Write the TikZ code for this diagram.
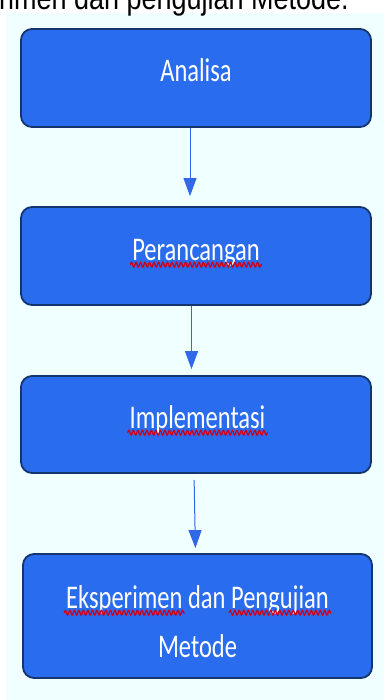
\documentclass[tikz,border=0pt]{standalone}
\usepackage{graphicx}
\usepackage{fontspec}
\newfontfamily\boxfont{Carlito}
\newfontfamily\capfont{Liberation Sans}
\usetikzlibrary{arrows.meta,decorations.pathmorphing}
\definecolor{boxblue}{RGB}{42,108,238}
\definecolor{boxedge}{RGB}{21,53,110}
\definecolor{paper}{RGB}{240,255,255}
\definecolor{flowblue}{RGB}{48,104,232}
\definecolor{spellred}{RGB}{208,0,24}
\newcommand{\vtall}[1]{\scalebox{1}[1.35]{#1}}
\newcommand{\spell}[1]{\tikz[baseline=(w.base)]{\node[inner sep=0pt,draw=none,fill=none] (w) {#1};
  \draw[overlay,spellred,line width=1.2pt,decorate,decoration={snake,amplitude=1.7pt,segment length=4.5pt}]
    ([shift={(-2pt,-3.5pt)}]w.base west) -- ([shift={(2pt,-3.5pt)}]w.base east);}}
\begin{document}
\begin{tikzpicture}[x=1pt,y=-1pt,
    stage/.style={draw=boxedge,line width=1.8pt,fill=boxblue,rounded corners=11pt,
      minimum width=350pt,minimum height=98pt,inner sep=0pt},
    lbl/.style={text=white,font=\boxfont\fontsize{24.5}{29}\selectfont,inner sep=0pt,anchor=base},
    flow/.style={flowblue,line width=1pt,-{Triangle[width=13pt,length=18pt]}}]
    \useasboundingbox (0,0) rectangle (384,700);
    \clip (0,0) rectangle (384,700);
    \fill[paper] (6,13) rectangle (384,700);
    \node[font=\capfont\fontsize{27}{30}\selectfont,anchor=base east,inner sep=0pt] (cap) at (349,10)
      {\scalebox{1}[1.2]{Eksperimen dan pengujian Metode.}};
    \node[stage] (ana) at (196,78) {};
    \node[stage] (per) at (196,256) {};
    \node[stage,minimum height=97pt] (imp) at (196,424.5) {};
    \node[stage,minimum width=349pt,minimum height=124pt] (eks) at (197.5,616) {};
    \node[lbl] (t1) at ([yshift=-4pt]ana.center) {\vtall{Analisa}};
    \node[lbl] (t2) at ([yshift=-4pt]per.center) {\vtall{\spell{Perancangan}}};
    \node[lbl] (t3) at ([shift={(1.5pt,-3.5pt)}]imp.center) {\vtall{\spell{Implementasi}}};
    \node[lbl] (t4) at ([yshift=8pt]eks.center) {\vtall{\spell{Eksperimen} dan \spell{Pengujian}}};
    \node[lbl] (t5) at ([yshift=-41pt]eks.center) {\vtall{Metode}};
    \draw[flow,shorten >=10pt] ([xshift=-6pt]ana.south) -- ([xshift=-6pt]per.north);
    \draw[flow,shorten >=6pt] ([xshift=-4.5pt]per.south) -- ([xshift=-4.5pt]imp.north);
    \draw[flow,shorten <=6pt,shorten >=5pt] ([xshift=-2pt]imp.south) -- ([xshift=-2pt]eks.north);
\end{tikzpicture}
\end{document}
